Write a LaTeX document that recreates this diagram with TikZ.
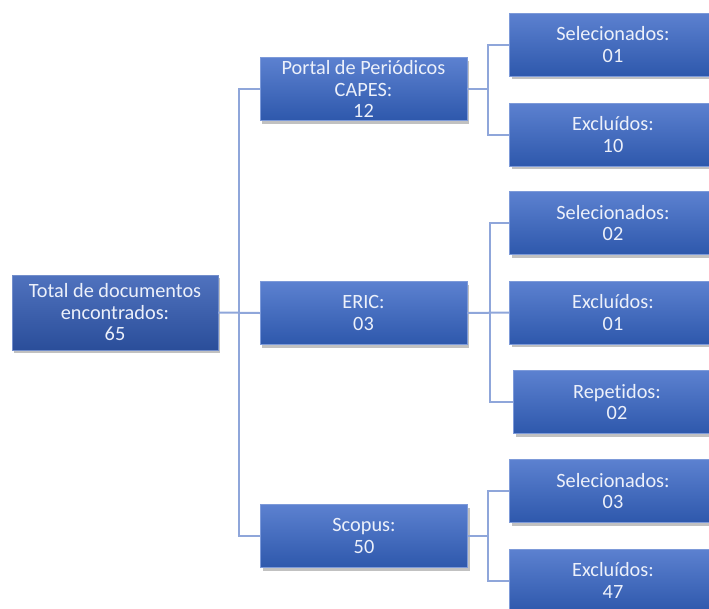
\documentclass[tikz,border=0pt]{standalone}
\usepackage{fontspec}
\setmainfont{Carlito}[Ligatures={NoCommon}]
\usetikzlibrary{shadows}
\definecolor{boxtop}{RGB}{92,129,208}
\definecolor{boxbot}{RGB}{46,88,172}
\definecolor{roottop}{RGB}{80,114,190}
\definecolor{rootbot}{RGB}{42,78,154}
\definecolor{linec}{RGB}{143,166,218}
\definecolor{txtc}{RGB}{236,240,250}
\tikzset{
  box/.style={rectangle, minimum width=207pt, minimum height=63pt, inner sep=0pt,
    top color=boxtop, bottom color=boxbot, draw=boxtop!80!white, line width=0.4pt,
    text=txtc, align=center, font=\fontsize{20.3}{21.5}\selectfont,
    drop shadow={shadow xshift=2pt, shadow yshift=-3pt, opacity=0.35, fill=black!70}},
  rootbox/.style={box, minimum width=206pt, minimum height=75pt, top color=roottop, bottom color=rootbot, draw=roottop!80!white},
  conn/.style={draw=linec, line width=2pt}
}
\begin{document}
\begin{tikzpicture}[x=1pt,y=-1pt]
\useasboundingbox (0,0) rectangle (709,608);
\clip (0,0) rectangle (709,608);
\node[rootbox] (root) at (115,312.5) {Total de documentos\\encontrados:\\65};
\node[box] (capes) at (363.5,89) {Portal de Periódicos\\CAPES:\\12};
\node[box] (eric) at (363.5,313) {ERIC:\\03};
\node[box] (scopus) at (364,536) {Scopus:\\50};
\node[box] (s1) at (613,44.5) {Selecionados:\\01};
\node[box] (e1) at (613,134.5) {Excluídos:\\10};
\node[box] (s2) at (613,223) {Selecionados:\\02};
\node[box] (e2) at (613,312.5) {Excluídos:\\01};
\node[box] (r2) at (617,402) {Repetidos:\\02};
\node[box] (s3) at (613,491) {Selecionados:\\03};
\node[box] (e3) at (613,580.5) {Excluídos:\\47};
\path[conn] (root.east) -- (eric.west);
\path[conn] (capes.west) -- ++(-21,0) |- (scopus.west);
\path[conn] (capes.east) -- ++(21,0);
\path[conn] (s1.west) -- ++(-21,0) |- (e1.west);
\path[conn] (eric.east) -- (e2.west);
\path[conn] (s2.west) -- ++(-19,0) |- (r2.west);
\path[conn] (scopus.east) -- ++(21,0);
\path[conn] (s3.west) -- ++(-21,0) |- (e3.west);
\end{tikzpicture}
\end{document}
